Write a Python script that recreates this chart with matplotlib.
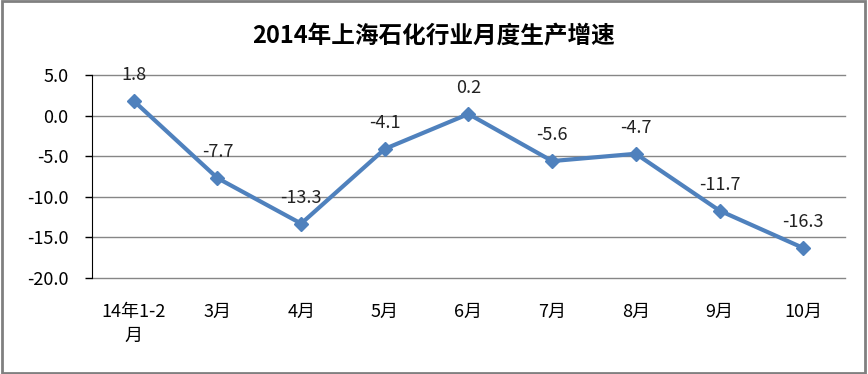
import matplotlib.pyplot as plt
from matplotlib.patches import Rectangle

plt.rcParams['font.family'] = ['Noto Sans CJK SC', 'DejaVu Sans']

categories = ['14年1-2\n月', '3月', '4月', '5月', '6月', '7月', '8月', '9月', '10月']
growth = [1.8, -7.7, -13.3, -4.1, 0.2, -5.6, -4.7, -11.7, -16.3]
yticks = [5, 0, -5, -10, -15, -20]

fig = plt.figure(figsize=(8.68, 3.74), dpi=100)
ax = fig.add_axes([92 / 868, 96 / 374, 753 / 868, 203 / 374])

x = list(range(len(categories)))
ax.plot(x, growth, color='#4F81BD', linewidth=3, marker='D', markersize=7.5,
        zorder=3, clip_on=False)
for xi, v in zip(x, growth):
    ax.annotate('%.1f' % v, (xi, v), xytext=(0, 12), textcoords='offset points',
                ha='center', va='bottom', fontsize=13, color='#222222')

ax.set_xlim(-0.5, len(categories) - 0.5)
ax.set_ylim(-20, 5)
ax.set_yticks(yticks)
ax.set_yticklabels(['%.1f' % t for t in yticks], fontsize=13)
ax.set_xticks(x)
ax.set_xticklabels(categories, fontsize=13, linespacing=1.4, va='top')
ax.tick_params(axis='x', length=0, pad=18)
ax.tick_params(axis='y', length=5, width=1, direction='out', pad=12)
ax.grid(axis='y', color='#868686', linewidth=1)
for gl in ax.get_ygridlines():
    gl.set_clip_on(False)
for s in ['top', 'right', 'bottom']:
    ax.spines[s].set_visible(False)
ax.spines['left'].set_color('black')
ax.set_axisbelow(True)

fig.text(0.5, 1 - 36 / 374, '2014年上海石化行业月度生产增速', ha='center', va='center',
         fontsize=17, fontweight='bold')

fig.patches.append(Rectangle((0.002, 0.003), 0.995, 0.993, transform=fig.transFigure,
                             fill=False, edgecolor='#808080', linewidth=2))

fig.savefig('out.png', dpi=100)
